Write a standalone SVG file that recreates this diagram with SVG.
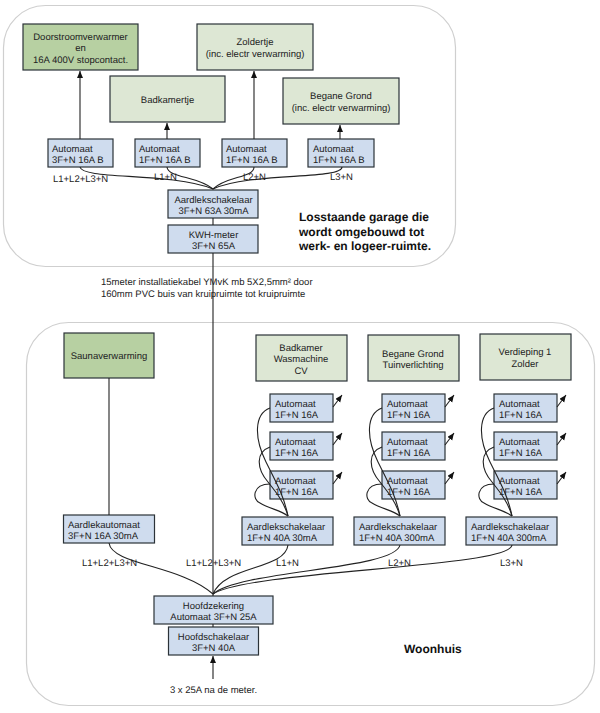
<svg xmlns="http://www.w3.org/2000/svg" width="600" height="713" viewBox="0 0 600 713">
<style>
text{font-family:"Liberation Sans",Arial,sans-serif;font-size:9.5px;fill:#222;text-rendering:geometricPrecision}
.m{text-anchor:middle}
.b{font-weight:bold;font-size:12px;fill:#111}
.n rect{stroke:#2b3238;stroke-width:1.2}
.blue rect{fill:#cfdcee}
.lg rect{fill:#dde7d4}
.dg rect{fill:#b7d0a2}
.c path{fill:none;stroke:#222;stroke-width:1.1}
.o{fill:#fff;stroke:#cfcfcf;stroke-width:1.2}
</style>
<defs><marker id="a" markerUnits="userSpaceOnUse" markerWidth="9" markerHeight="8" refX="7" refY="3" orient="auto"><path d="M0 0L7 3L0 6Z" fill="#111"/></marker></defs>
<rect width="600" height="713" fill="#fff"/>
<rect class="o" x="3.500" y="5.500" width="452" height="261" rx="42"/>
<rect class="o" x="26.500" y="322.500" width="568" height="383" rx="42"/>
<g id="n1" class="n dg"><rect x="23" y="24" width="115" height="46"/><text class="m" x="80.500" y="40">Doorstroomverwarmer</text><text class="m" x="80.500" y="51">en</text><text class="m" x="80.500" y="63">16A 400V stopcontact.</text></g>
<g id="n2" class="n lg"><rect x="197" y="24" width="116" height="46"/><text class="m" x="255" y="45">Zoldertje</text><text class="m" x="255" y="57">(inc. electr verwarming)</text></g>
<g id="n3" class="n lg"><rect x="110" y="76" width="115" height="46"/><text class="m" x="167.500" y="103">Badkamertje</text></g>
<g id="n4" class="n lg"><rect x="283" y="78" width="116" height="46"/><text class="m" x="341" y="99">Begane Grond</text><text class="m" x="341" y="111">(inc. electr verwarming)</text></g>
<g id="a1" class="n blue"><rect x="48" y="139" width="65" height="28"/><text x="52" y="152">Automaat</text><text x="52" y="163">3F+N 16A B</text></g>
<g id="a2" class="n blue"><rect x="135" y="139" width="65" height="28"/><text x="139" y="152">Automaat</text><text x="139" y="163">1F+N 16A B</text></g>
<g id="a3" class="n blue"><rect x="222" y="139" width="65" height="28"/><text x="226" y="152">Automaat</text><text x="226" y="163">1F+N 16A B</text></g>
<g id="a4" class="n blue"><rect x="308" y="139" width="66" height="28"/><text x="313" y="152">Automaat</text><text x="313" y="163">1F+N 16A B</text></g>
<text x="53" y="182">L1+L2+L3+N</text><text x="154" y="180">L1+N</text><text x="243" y="180">L2+N</text><text x="330" y="180">L3+N</text>
<g id="al" class="n blue"><rect x="168" y="190" width="90" height="28"/><text class="m" x="213.500" y="203">Aardlekschakelaar</text><text class="m" x="213.500" y="214">3F+N 63A 30mA</text></g>
<g id="kwh" class="n blue"><rect x="168" y="225" width="90" height="28"/><text class="m" x="213.500" y="238">KWH-meter</text><text class="m" x="213.500" y="249">3F+N 65A</text></g>
<text class="b" x="299" y="221">Losstaande garage die</text><text class="b" x="299" y="236">wordt omgebouwd tot</text><text class="b" x="299" y="250">werk- en logeer-ruimte.</text>
<text x="101" y="285">15meter installatiekabel YMvK mb 5X2,5mm² door</text><text x="101" y="297">160mm PVC buis van kruipruimte tot kruipruimte</text>
<g id="sauna" class="n dg"><rect x="64" y="333" width="90" height="45"/><text class="m" x="109" y="359">Saunaverwarming</text></g>
<g id="w1" class="n lg"><rect x="256" y="335" width="91" height="46"/><text class="m" x="301" y="351">Badkamer</text><text class="m" x="301" y="362">Wasmachine</text><text class="m" x="301" y="374">CV</text></g>
<g id="w2" class="n lg"><rect x="368" y="335" width="91" height="46"/><text class="m" x="413" y="357">Begane Grond</text><text class="m" x="413" y="368">Tuinverlichting</text></g>
<g id="w3" class="n lg"><rect x="480" y="334" width="91" height="46"/><text class="m" x="525" y="355">Verdieping 1</text><text class="m" x="525" y="367">Zolder</text></g>
<g id="b11" class="n blue"><rect x="270" y="394" width="63" height="28"/><text x="275" y="407">Automaat</text><text x="275" y="418">1F+N 16A</text></g>
<g id="b12" class="n blue"><rect x="270" y="432" width="63" height="28"/><text x="275" y="445">Automaat</text><text x="275" y="456">1F+N 16A</text></g>
<g id="b13" class="n blue"><rect x="270" y="471" width="63" height="28"/><text x="275" y="484">Automaat</text><text x="275" y="495">1F+N 16A</text></g>
<g id="b21" class="n blue"><rect x="382" y="394" width="63" height="28"/><text x="387" y="407">Automaat</text><text x="387" y="418">1F+N 16A</text></g>
<g id="b22" class="n blue"><rect x="382" y="432" width="63" height="28"/><text x="387" y="445">Automaat</text><text x="387" y="456">1F+N 16A</text></g>
<g id="b23" class="n blue"><rect x="382" y="471" width="63" height="28"/><text x="387" y="484">Automaat</text><text x="387" y="495">1F+N 16A</text></g>
<g id="b31" class="n blue"><rect x="494" y="394" width="63" height="28"/><text x="499" y="407">Automaat</text><text x="499" y="418">1F+N 16A</text></g>
<g id="b32" class="n blue"><rect x="494" y="432" width="63" height="28"/><text x="499" y="445">Automaat</text><text x="499" y="456">1F+N 16A</text></g>
<g id="b33" class="n blue"><rect x="494" y="471" width="63" height="28"/><text x="499" y="484">Automaat</text><text x="499" y="495">1F+N 16A</text></g>
<g id="aa" class="n blue"><rect x="63.500" y="515" width="91" height="28"/><text x="68" y="528">Aardlekautomaat</text><text x="68" y="539">3F+N 16A 30mA</text></g>
<g id="l1" class="n blue"><rect x="242" y="517" width="91" height="28"/><text x="247" y="530">Aardlekschakelaar</text><text x="247" y="541">1F+N 40A 30mA</text></g>
<g id="l2" class="n blue"><rect x="354" y="517" width="91" height="28"/><text x="359" y="530">Aardlekschakelaar</text><text x="359" y="541">1F+N 40A 300mA</text></g>
<g id="l3" class="n blue"><rect x="466" y="517" width="91" height="28"/><text x="471" y="530">Aardlekschakelaar</text><text x="471" y="541">1F+N 40A 300mA</text></g>
<text x="82" y="566">L1+L2+L3+N</text><text x="186" y="566">L1+L2+L3+N</text><text x="276" y="566">L1+N</text><text x="388" y="566">L2+N</text><text x="500" y="566">L3+N</text>
<g id="hz" class="n blue"><rect x="154" y="596" width="119" height="28"/><text class="m" x="213.500" y="609">Hoofdzekering</text><text class="m" x="213.500" y="620">Automaat 3F+N 25A</text></g>
<g id="hs" class="n blue"><rect x="168.500" y="627" width="90" height="28"/><text class="m" x="213.500" y="640">Hoofdschakelaar</text><text class="m" x="213.500" y="651">3F+N 40A</text></g>
<text class="m" x="213.500" y="693">3 x 25A na de meter.</text>
<text class="b" x="404" y="653">Woonhuis</text>
<g class="c">
<path d="M80 139V71" marker-end="url(#a)"/>
<path d="M167 139V123" marker-end="url(#a)"/>
<path d="M254 139V71" marker-end="url(#a)"/>
<path d="M340 139V125" marker-end="url(#a)"/>
<path d="M80 167C82 180 170 172 213 189"/>
<path d="M167 167C168 178 198 176 213 189"/>
<path d="M254 167C254 178 226 176 213 189"/>
<path d="M342 167C342 180 250 172 213 189"/>
<path d="M213 218V225M213 253V596"/>
<path d="M109 378V515"/>
<path d="M109 543C112 565 180 565 213 594"/>
<path d="M288 545C285 570 225 565 213 594"/>
<path d="M400 545C395 570 240 570 213 594"/>
<path d="M512 545C510 568 250 570 213 594"/>
<path d="M213 624V627M213 679V656" marker-end="url(#a)"/>
<g id="fan1"><path d="M270 408C254 414 254 438 266 462C276 482 284 496 288 516"/><path d="M270 447C256 452 256 468 268 482C276 492 284 502 288 516"/><path d="M270 484C252 484 252 500 260 503C270 509 280 510 288 516"/><path d="M333 407L342 395" marker-end="url(#a)"/><path d="M333 445L342 433" marker-end="url(#a)"/><path d="M333 484L342 472" marker-end="url(#a)"/></g>
<g id="fan2"><path d="M382 408C366 414 366 438 378 462C388 482 396 496 400 516"/><path d="M382 447C368 452 368 468 380 482C388 492 396 502 400 516"/><path d="M382 484C364 484 364 500 372 503C382 509 392 510 400 516"/><path d="M445 407L454 395" marker-end="url(#a)"/><path d="M445 445L454 433" marker-end="url(#a)"/><path d="M445 484L454 472" marker-end="url(#a)"/></g>
<g id="fan3"><path d="M494 408C478 414 478 438 490 462C500 482 508 496 512 516"/><path d="M494 447C480 452 480 468 492 482C500 492 508 502 512 516"/><path d="M494 484C476 484 476 500 484 503C494 509 504 510 512 516"/><path d="M557 407L566 395" marker-end="url(#a)"/><path d="M557 445L566 433" marker-end="url(#a)"/><path d="M557 484L566 472" marker-end="url(#a)"/></g>
</g>
</svg>
